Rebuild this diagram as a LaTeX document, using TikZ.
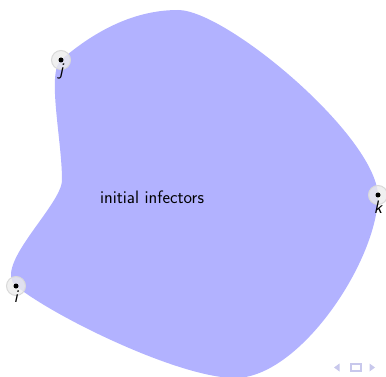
\documentclass[tikz,border=0pt]{standalone}
\definecolor{navcol}{RGB}{200,200,236}
\begin{document}
\begin{tikzpicture}[x=1pt,y=-1pt,
  blob/.style={fill=blue!30},
  halo/.style={circle, inner sep=0pt, minimum size=19pt, fill=gray!15, draw=gray!30, line width=1pt, fill opacity=0.8},
  vdot/.style={circle, inner sep=0pt, minimum size=5pt, fill=black},
  lbl/.style={inner sep=0pt, font=\fontsize{18}{21}\selectfont\sffamily\itshape},
  txt/.style={inner sep=0pt, font=\fontsize{18}{21}\selectfont\sffamily},
  nav/.style={fill=navcol}]
\useasboundingbox (0,0) rectangle (386,377);
\fill[blob] (61,60)
  .. controls (90,35) and (130,10) .. (178,10)
  .. controls (226,10) and (375,135) .. (378,195)
  .. controls (378,260) and (300,378) .. (235,378)
  .. controls (180,378) and (56,318) .. (16,286)
  .. controls (-8,266) and (62,205) .. (62,180)
  .. controls (62,140) and (46.5,72.5) .. (61,60) -- cycle;
\node[halo] (hj) at (61,60) {};
\node[halo] (hi) at (16,286) {};
\node[halo] (hk) at (378,195) {};
\node[vdot] (j) at (61,60) {};
\node[vdot] (i) at (16,286) {};
\node[vdot] (k) at (378,195) {};
\node[lbl] (lj) at (61,71) {j};
\node[lbl] (li) at (16,297) {i};
\node[lbl] (lk) at (378,207) {k};
\node[txt] (t) at (152,197) {initial infectors};
\fill[nav] (334,367.5) -- (339.5,363.5) -- (339.5,371.5) -- cycle;
\draw[navcol, line width=1.2pt] (351,364) rectangle (361,371);
\fill[nav] (375,367.5) -- (369.5,363.5) -- (369.5,371.5) -- cycle;
\end{tikzpicture}
\end{document}
